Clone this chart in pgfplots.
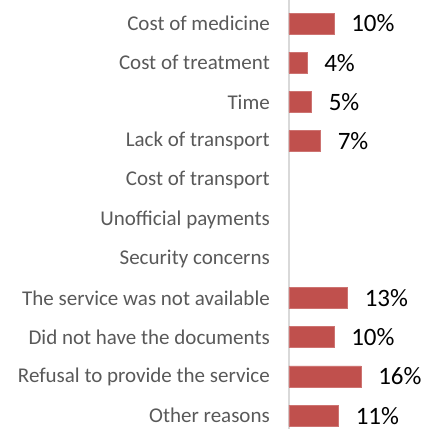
\documentclass[border=0pt]{standalone}
\usepackage{fontspec}
\setmainfont{Carlito}
\usepackage{pgfplots}
\pgfplotsset{compat=1.18}
\definecolor{barred}{HTML}{C0504D}
\definecolor{labgray}{HTML}{595959}
\definecolor{axgray}{HTML}{D9D9D9}
\begin{document}
\begin{tikzpicture}
\begin{axis}[
  at={(0pt,0pt)}, anchor=south west,
  scale only axis, width=136pt, height=429pt,
  xmin=0, xmax=30.2,
  ymin=-0.6, ymax=10.34, y dir=reverse,
  axis y line*=left, axis x line=none,
  axis line style={draw=axgray, line width=1.5pt},
  ytick={0,...,10},
  yticklabels={Cost of medicine,Cost of treatment,Time,Lack of transport,Cost of transport,Unofficial payments,Security concerns,The service was not available,Did not have the documents,Refusal to provide the service,Other reasons},
  yticklabel style={inner sep=0pt, xshift=-19pt, text=labgray, font=\fontsize{21}{25}\selectfont},
  major tick length=0pt, ytick style={draw=none},
  clip=false,
  xbar, bar width=21pt, bar shift=0pt,
  point meta=x,
  nodes near coords={\pgfmathprintnumber[assume math mode=true]{\pgfplotspointmeta}\%},
  nodes near coords style={anchor=west, inner sep=0pt, xshift=17pt, text=black, font=\fontsize{25}{30}\selectfont},
]
\addplot[fill=barred, draw=barred!80!white, line width=0.5pt] coordinates {
  (10,0) (4,1) (5,2) (7,3) (13,7) (10,8) (16,9) (11,10)
};
\end{axis}
\pgfresetboundingbox
\path[use as bounding box] (-289pt,0pt) rectangle (136pt,429pt);
\end{tikzpicture}
\end{document}
